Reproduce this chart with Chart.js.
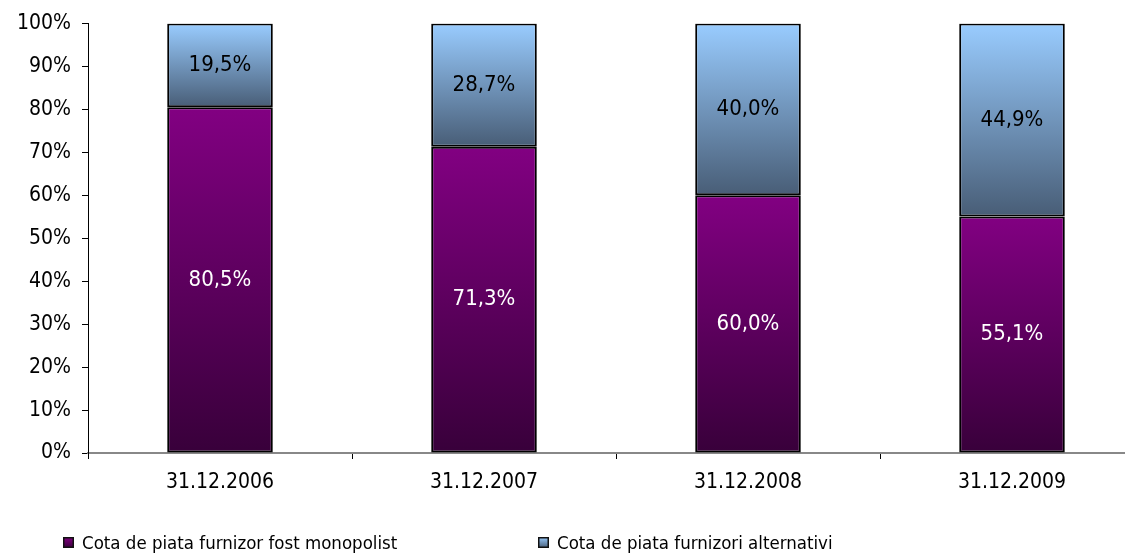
<!DOCTYPE html>
<html>
<head>
<meta charset="utf-8">
<script src="https://cdn.jsdelivr.net/npm/chart.js@4"></script>
<style>
  html, body { margin: 0; padding: 0; overflow: hidden; background: #fff; }
</style>
</head>
<body>
<canvas id="myChart" width="1150" height="553"></canvas>
<script>
// data
const categories = ['31.12.2006', '31.12.2007', '31.12.2008', '31.12.2009'];
const monopolist = [80.5, 71.3, 60.0, 55.1];
const alternativi = [19.5, 28.7, 40.0, 44.9];
const seriesNames = ['Cota de piata furnizor fost monopolist', 'Cota de piata furnizori alternativi'];

const purple = ['#820082', '#38003a'];
const blue = ['#99ccff', '#485d76'];
const tickFont = 'DejaVu Sans Condensed';

// gradient per segment, from top of segment down to its base
function fillFor(colors, below) {
    return function (context) {
        const chart = context.chart;
        const y = chart.scales.y;
        if (context.type !== 'data' || !y) return colors[0];
        const i = context.dataIndex;
        const base = below ? below[i] : 0;
        const top = y.getPixelForValue(base + context.dataset.data[i]);
        const bottom = y.getPixelForValue(base);
        if (!isFinite(top) || !isFinite(bottom) || top === bottom) return colors[0];
        const g = chart.ctx.createLinearGradient(0, top, 0, bottom);
        g.addColorStop(0, colors[0]);
        g.addColorStop(1, colors[1]);
        return g;
    };
}

const valueLabels = {
    id: 'valueLabels',
    afterDatasetsDraw(chart) {
        const { ctx } = chart;
        ctx.save();
        ctx.font = '22px "' + tickFont + '"';
        ctx.textAlign = 'center';
        ctx.textBaseline = 'middle';
        chart.data.datasets.forEach((ds, di) => {
            chart.getDatasetMeta(di).data.forEach((el, i) => {
                const txt = ds.data[i].toFixed(1).replace('.', ',') + '%';
                ctx.fillStyle = di === 0 ? '#ffffff' : '#000000';
                ctx.fillText(txt, el.x, (el.y + el.base) / 2);
            });
        });
        ctx.restore();
    }
};

const bottomLegend = {
    id: 'bottomLegend',
    afterDraw(chart) {
        const { ctx } = chart;
        const items = [
            { x: 63, colors: purple, text: seriesNames[0] },
            { x: 538, colors: blue, text: seriesNames[1] }
        ];
        ctx.save();
        items.forEach(it => {
            const g = ctx.createLinearGradient(0, 537, 0, 548);
            g.addColorStop(0, it.colors[0]);
            g.addColorStop(1, it.colors[1]);
            ctx.fillStyle = g;
            ctx.fillRect(it.x, 537, 11, 11);
            ctx.strokeStyle = '#111';
            ctx.lineWidth = 1.5;
            ctx.strokeRect(it.x + 0.75, 537.75, 9.5, 9.5);
            ctx.fillStyle = '#000';
            ctx.font = '18.5px "' + tickFont + '"';
            ctx.textAlign = 'left';
            ctx.textBaseline = 'alphabetic';
            ctx.fillText(it.text, it.x + 19, 549);
        });
        ctx.restore();
    }
};

const config = {
    type: 'bar',
    data: {
        labels: categories,
        datasets: [{
            label: seriesNames[0],
            data: monopolist,
            backgroundColor: fillFor(purple, null),
            borderColor: '#000',
            borderWidth: 2,
            borderSkipped: false,
            categoryPercentage: 0.4,
            barPercentage: 1
        }, {
            label: seriesNames[1],
            data: alternativi,
            backgroundColor: fillFor(blue, monopolist),
            borderColor: '#000',
            borderWidth: 2,
            borderSkipped: false,
            categoryPercentage: 0.4,
            barPercentage: 1
        }]
    },
    options: {
        responsive: false,
        animation: false,
        layout: { padding: { top: 21, right: 6, left: 0, bottom: 0 } },
        plugins: {
            legend: { display: false },
            tooltip: { enabled: false }
        },
        scales: {
            x: {
                stacked: true,
                grid: { display: true, offset: true, drawOnChartArea: false, drawTicks: true, tickLength: 6, color: '#000' },
                border: { display: true, color: '#888', width: 2 },
                ticks: {
                    color: '#000',
                    font: { family: tickFont, size: 21 },
                    padding: 11,
                    maxRotation: 0
                },
                afterFit(scale) { scale.height = 100; }
            },
            y: {
                stacked: true,
                min: 0,
                max: 100,
                grid: { display: true, drawOnChartArea: false, drawTicks: true, tickLength: 6, color: '#000' },
                border: { display: true, color: '#000', width: 1 },
                ticks: {
                    stepSize: 10,
                    color: '#000',
                    font: { family: tickFont, size: 21 },
                    padding: 11,
                    callback: v => v + '%'
                },
                afterFit(scale) { scale.width = 88; }
            }
        }
    },
    plugins: [valueLabels, bottomLegend]
};

const myChart = new Chart(document.getElementById('myChart'), config);
</script>
</body>
</html>
